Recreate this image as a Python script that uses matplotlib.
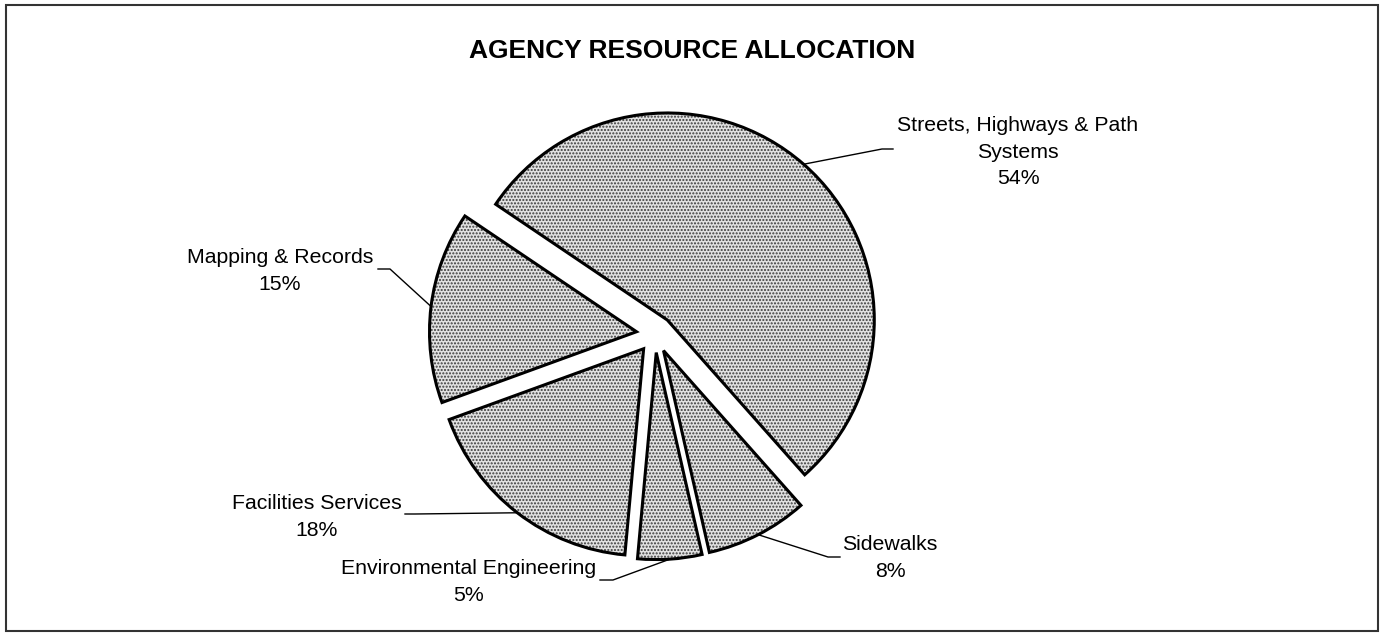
import matplotlib
matplotlib.use("Agg")
import matplotlib.pyplot as plt
from matplotlib.patches import Wedge, Rectangle
import numpy as np

plt.rcParams['font.family'] = ['Liberation Sans', 'DejaVu Sans']
plt.rcParams['hatch.linewidth'] = 1.0

# ---- data ----
categories = ["Streets, Highways & Path\nSystems", "Sidewalks", "Environmental Engineering",
              "Facilities Services", "Mapping & Records"]
values = [54, 8, 5, 18, 15]
title = "AGENCY RESOURCE ALLOCATION"

# ---- layout (pixel positions) ----
W, H = 1381, 633
cx, cy, R = 655, 334, 207
label_pos = [(1018, 152), (890, 558), (469, 582), (317, 517), (280, 271)]
leader_end = [(893, 149), (840, 557), (600, 580), (405, 514), (378, 269)]
leader_elbow = [(882, 149), (828, 557), (613, 580), (415, 514), (390, 269)]

def P(p):
    return ((p[0] - cx) / R, (cy - p[1]) / R)

fig = plt.figure(figsize=(W / 100, H / 100), dpi=100)
ax = fig.add_axes([0, 0, 1, 1])

wedges, _ = ax.pie(values, startangle=146, counterclock=False, explode=[0.09] * len(values),
                   radius=1, center=(0, 0),
                   wedgeprops=dict(facecolor='#e2e2e2', edgecolor='#3a3a3a', hatch='.....', linewidth=0))
for w in wedges:
    ax.add_patch(Wedge(w.center, w.r, w.theta1, w.theta2, fill=False, edgecolor='black', lw=2.2))

ax.set_aspect('auto')
ax.set_xlim(-cx / R, (W - cx) / R)
ax.set_ylim(-(H - cy) / R, cy / R)
ax.axis('off')

total = sum(values)
for w, name, v, lp, le, el in zip(wedges, categories, values, label_pos, leader_end, leader_elbow):
    mid = np.deg2rad((w.theta1 + w.theta2) / 2)
    ax_pt = (w.center[0] + w.r * np.cos(mid), w.center[1] + w.r * np.sin(mid))
    e = P(le); b = P(el)
    ax.plot([e[0], b[0], ax_pt[0]], [e[1], b[1], ax_pt[1]], color='black', lw=1)
    x, y = P(lp)
    ax.text(x, y, f"{name}\n{round(100 * v / total)}%", ha='center', va='center',
            fontsize=15.3, linespacing=1.5, color='black')

fig.text(692 / W, 1 - 51 / H, title, ha='center', va='center', fontsize=19, fontweight='bold')

fig.patches.append(Rectangle((6 / W, 2 / H), (1378 - 6) / W, (631 - 5) / H, transform=fig.transFigure,
                             fill=False, edgecolor='#333333', lw=1.5))

fig.savefig('out.png', dpi=100)
